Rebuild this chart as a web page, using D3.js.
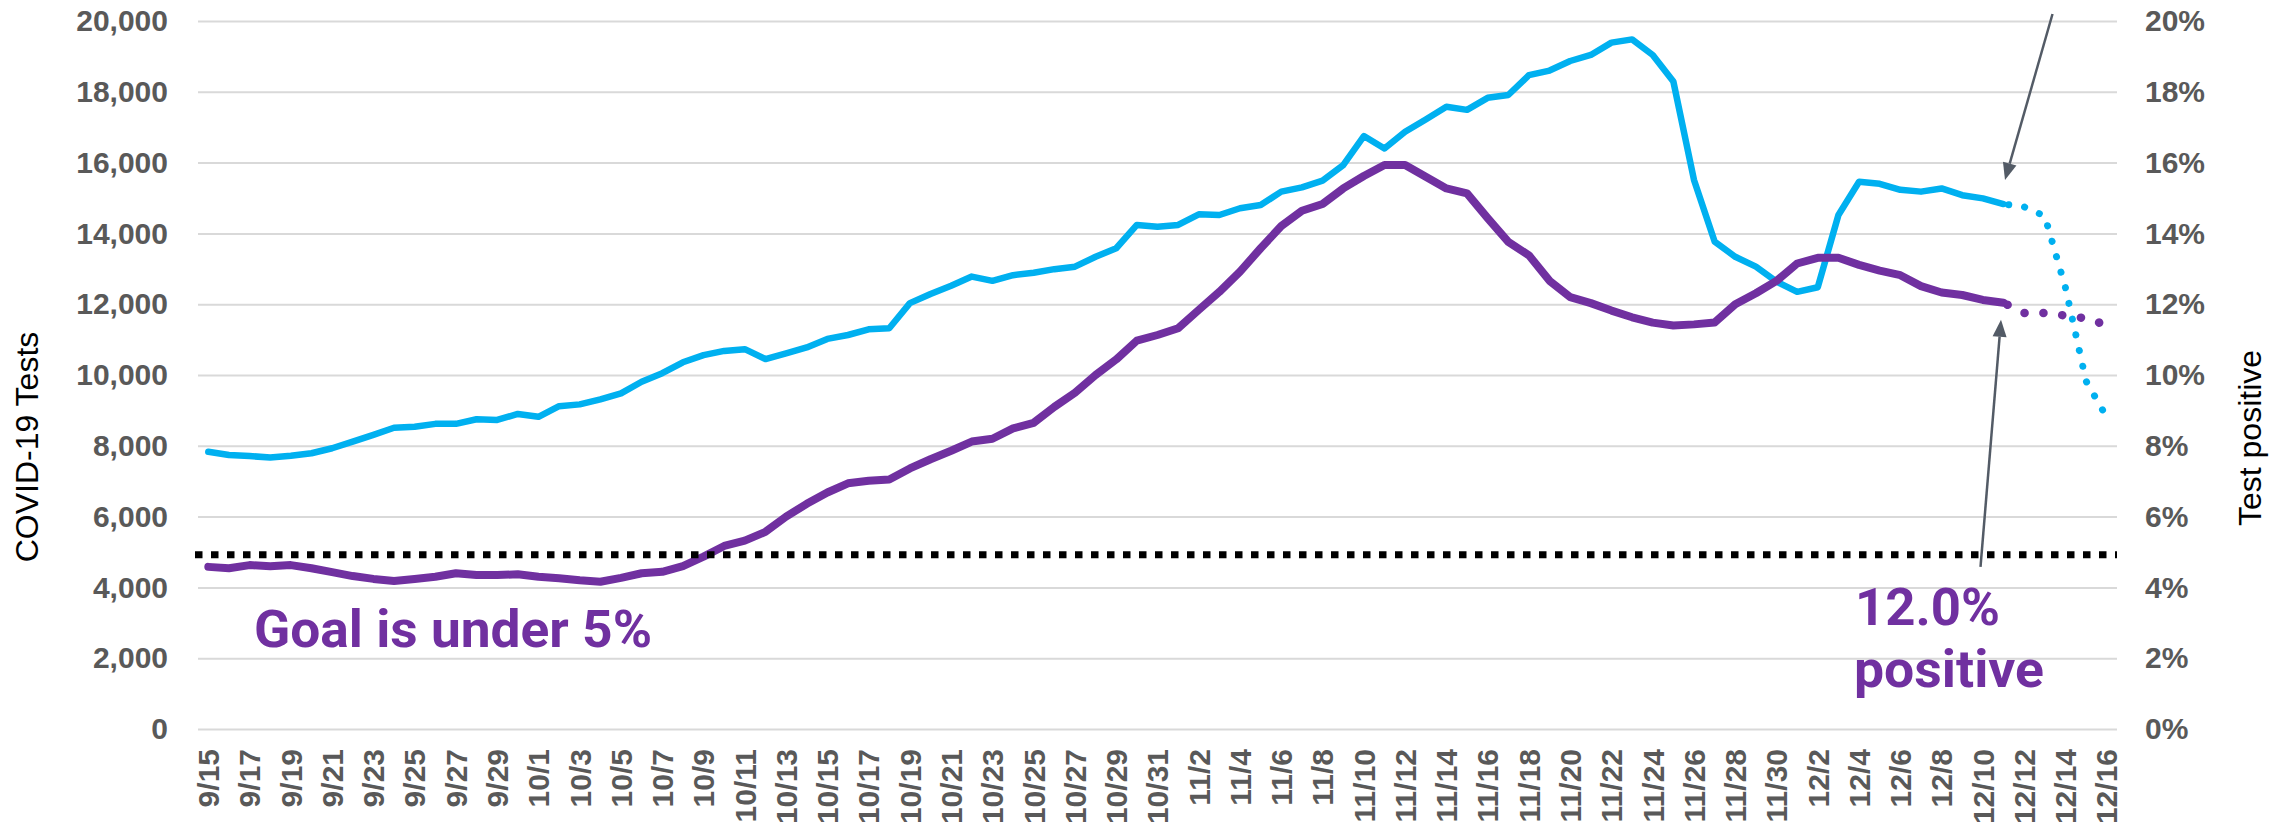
<!DOCTYPE html>
<html><head><meta charset="utf-8">
<script src="https://cdn.jsdelivr.net/npm/d3@7"></script>
<style>body{margin:0;background:#fff}svg{display:block}</style>
</head><body>
<svg id="chart" width="2285" height="829"></svg>
<script>
const dates = ["9/15","9/16","9/17","9/18","9/19","9/20","9/21","9/22","9/23","9/24","9/25","9/26","9/27","9/28","9/29","9/30",
"10/1","10/2","10/3","10/4","10/5","10/6","10/7","10/8","10/9","10/10","10/11","10/12","10/13","10/14","10/15","10/16","10/17","10/18","10/19","10/20","10/21","10/22","10/23","10/24","10/25","10/26","10/27","10/28","10/29","10/30","10/31",
"11/1","11/2","11/3","11/4","11/5","11/6","11/7","11/8","11/9","11/10","11/11","11/12","11/13","11/14","11/15","11/16","11/17","11/18","11/19","11/20","11/21","11/22","11/23","11/24","11/25","11/26","11/27","11/28","11/29","11/30",
"12/1","12/2","12/3","12/4","12/5","12/6","12/7","12/8","12/9","12/10","12/11","12/12","12/13","12/14","12/15","12/16"];
const xTickLabels = ["9/15","9/17","9/19","9/21","9/23","9/25","9/27","9/29","10/1","10/3","10/5","10/7","10/9","10/11","10/13","10/15","10/17","10/19","10/21","10/23","10/25","10/27","10/29","10/31",
"11/2","11/4","11/6","11/8","11/10","11/12","11/14","11/16","11/18","11/20","11/22","11/24","11/26","11/28","11/30","12/2","12/4","12/6","12/8","12/10","12/12","12/14","12/16"];
// COVID-19 tests, 9/15 - 12/11 (left axis)
const tests = [7830,7740,7710,7670,7720,7790,7930,8120,8310,8510,8540,8620,8620,8750,8730,8900,
8820,9120,9170,9310,9480,9810,10050,10360,10560,10680,10730,10450,10610,10780,11020,11130,11290,11320,12030,12290,12520,12780,12660,12820,12890,12990,13060,13340,13580,14240,14190,
14240,14540,14520,14710,14800,15180,15300,15490,15930,16750,16400,16870,17220,17580,17490,17830,17910,18470,18600,18870,19040,19390,19480,19040,18290,15510,13770,13340,13060,12640,12350,
12480,14520,15460,15400,15230,15180,15270,15080,14990,14830];
// Test positive %, 9/15 - 12/11 (right axis)
const positivity = [4.58,4.54,4.63,4.60,4.63,4.54,4.43,4.32,4.24,4.18,4.24,4.30,4.40,4.35,4.35,4.37,
4.30,4.26,4.20,4.16,4.27,4.40,4.44,4.60,4.87,5.17,5.32,5.57,6.00,6.36,6.68,6.94,7.01,7.05,7.36,7.62,7.86,8.12,8.20,8.49,8.65,9.10,9.50,10.00,10.44,10.97,11.13,
11.32,11.84,12.35,12.92,13.58,14.21,14.64,14.83,15.27,15.62,15.93,15.93,15.60,15.27,15.13,14.43,13.76,13.38,12.66,12.20,12.03,11.82,11.63,11.48,11.40,11.43,11.48,12.00,12.31,12.66,13.15,
13.31,13.31,13.11,12.95,12.82,12.51,12.33,12.26,12.12,12.04];
// incomplete recent days (dotted)
const projDates = ["12/11","12/12","12/13","12/14","12/15","12/16"];
const testsProjected = [14830,14750,14490,12470,9830,8810];
const positivityProjected = [12.04,11.75,11.75,11.68,11.60,11.41];
const goalPct = 4.92;
const leftTicks = [0,2000,4000,6000,8000,10000,12000,14000,16000,18000,20000];
const rightTicks = [0,2,4,6,8,10,12,14,16,18,20];

const BLUE = "#00B0F0", PURPLE = "#7030A0", GRID = "#D9D9D9", TICK = "#595959", ARROW = "#535B66";
const FONT = "'Liberation Sans', Arial, sans-serif";
const svg = d3.select("#chart");
const L = 198, R = 2117, T = 21, B = 729;

const x = d3.scaleBand().domain(dates).range([L, R]).padding(0);
const cx = d => x(d) + x.bandwidth() / 2;
const yL = d3.scaleLinear().domain([0, 20000]).range([B, T]);
const yR = d3.scaleLinear().domain([0, 20]).range([B, T]);

// gridlines + left labels
const gl = svg.append("g").attr("transform", `translate(${L},0)`)
  .call(d3.axisLeft(yL).tickValues(leftTicks).tickSize(-(R - L)).tickPadding(30).tickFormat(d3.format(",")));
gl.select(".domain").remove();
gl.selectAll(".tick line").attr("stroke", GRID).attr("stroke-width", 2);
gl.selectAll(".tick text").attr("fill", TICK).style("font", `bold 30px ${FONT}`);

const gr = svg.append("g").attr("transform", `translate(${R},0)`)
  .call(d3.axisRight(yR).tickValues(rightTicks).tickSize(0).tickPadding(28).tickFormat(d => d + "%"));
gr.select(".domain").remove();
gr.selectAll(".tick text").attr("fill", TICK).style("font", `bold 30px ${FONT}`);

// x labels
const gx = svg.append("g").attr("transform", `translate(0,${B})`)
  .call(d3.axisBottom(x).tickValues(xTickLabels).tickSize(0).tickPadding(0));
gx.select(".domain").remove();
gx.selectAll(".tick text")
  .attr("fill", TICK).style("font", `bold 30px ${FONT}`)
  .attr("text-anchor", "end").attr("transform", "translate(0,20) rotate(-90)")
  .attr("x", 0).attr("y", 0).attr("dy", "0.36em");

// axis titles
svg.append("text").attr("transform", "translate(27,447) rotate(-90)").attr("dy", "0.35em")
  .attr("text-anchor", "middle").style("font", `32px ${FONT}`).attr("fill", "#000").text("COVID-19 Tests");
svg.append("text").attr("transform", "translate(2250,438) rotate(-90)").attr("dy", "0.35em")
  .attr("text-anchor", "middle").style("font", `32px ${FONT}`).attr("fill", "#000").text("Test positive");

const lineL = d3.line().x((d, i, arr) => cx(d.date)).y(d => yL(d.v));
const lineR = d3.line().x(d => cx(d.date)).y(d => yR(d.v));
const testsData = tests.map((v, i) => ({date: dates[i], v}));
const posData = positivity.map((v, i) => ({date: dates[i], v}));
const testsProj = testsProjected.map((v, i) => ({date: projDates[i], v}));
const posProj = positivityProjected.map((v, i) => ({date: projDates[i], v}));

svg.append("path").datum(testsData).attr("d", lineL).attr("fill", "none")
  .attr("stroke", BLUE).attr("stroke-width", 6.5).attr("stroke-linejoin", "round").attr("stroke-linecap", "round");
svg.append("path").datum(testsProj).attr("d", lineL).attr("fill", "none")
  .attr("stroke", BLUE).attr("stroke-width", 7).attr("stroke-linecap", "round")
  .attr("stroke-dasharray", "0.1 16").attr("stroke-dashoffset", -5.2);
svg.append("path").datum(posData).attr("d", lineR).attr("fill", "none")
  .attr("stroke", PURPLE).attr("stroke-width", 8).attr("stroke-linejoin", "round").attr("stroke-linecap", "round");
svg.append("path").datum(posProj).attr("d", lineR).attr("fill", "none")
  .attr("stroke", PURPLE).attr("stroke-width", 8.5).attr("stroke-linecap", "round")
  .attr("stroke-dasharray", "0.1 18.8").attr("stroke-dashoffset", -4.5);

// goal line
svg.append("line").attr("x1", L - 3).attr("x2", R).attr("y1", yR(goalPct)).attr("y2", yR(goalPct))
  .attr("stroke", "#000").attr("stroke-width", 7).attr("stroke-dasharray", "7.5 8.5");

// annotations
svg.append("text").attr("x", 254).attr("y", 647).attr("fill", PURPLE)
  .attr("textLength", 398).attr("lengthAdjust", "spacingAndGlyphs")
  .style("font", "bold 52px Roboto, sans-serif").text("Goal is under 5%");
svg.append("text").attr("x", 1855).attr("y", 625).attr("fill", PURPLE)
  .attr("textLength", 145).attr("lengthAdjust", "spacingAndGlyphs")
  .style("font", "bold 52px Roboto, sans-serif").text("12.0%");
svg.append("text").attr("x", 1854).attr("y", 687).attr("fill", PURPLE)
  .attr("textLength", 190).attr("lengthAdjust", "spacingAndGlyphs")
  .style("font", "bold 52px Roboto, sans-serif").text("positive");

function arrow(x1, y1, x2, y2) {
  const a = Math.atan2(y2 - y1, x2 - x1), hl = 17, hw = 7;
  const bx = x2 - hl * Math.cos(a), by = y2 - hl * Math.sin(a);
  svg.append("line").attr("x1", x1).attr("y1", y1).attr("x2", bx).attr("y2", by)
    .attr("stroke", ARROW).attr("stroke-width", 2.5);
  const p = [[x2, y2], [bx + hw * Math.sin(a), by - hw * Math.cos(a)], [bx - hw * Math.sin(a), by + hw * Math.cos(a)]];
  svg.append("polygon").attr("points", p.map(q => q.join(",")).join(" ")).attr("fill", ARROW);
}
const lastT = testsData[testsData.length - 1], lastP = posData[posData.length - 1];
arrow(cx(lastT.date) + 49, 14, cx(lastT.date) + 1.5, yL(lastT.v) - 24);
arrow(cx(lastP.date) - 23, yR(goalPct) + 12, cx(lastP.date) - 2.5, yR(lastP.v) + 17);
</script>
</body></html>
